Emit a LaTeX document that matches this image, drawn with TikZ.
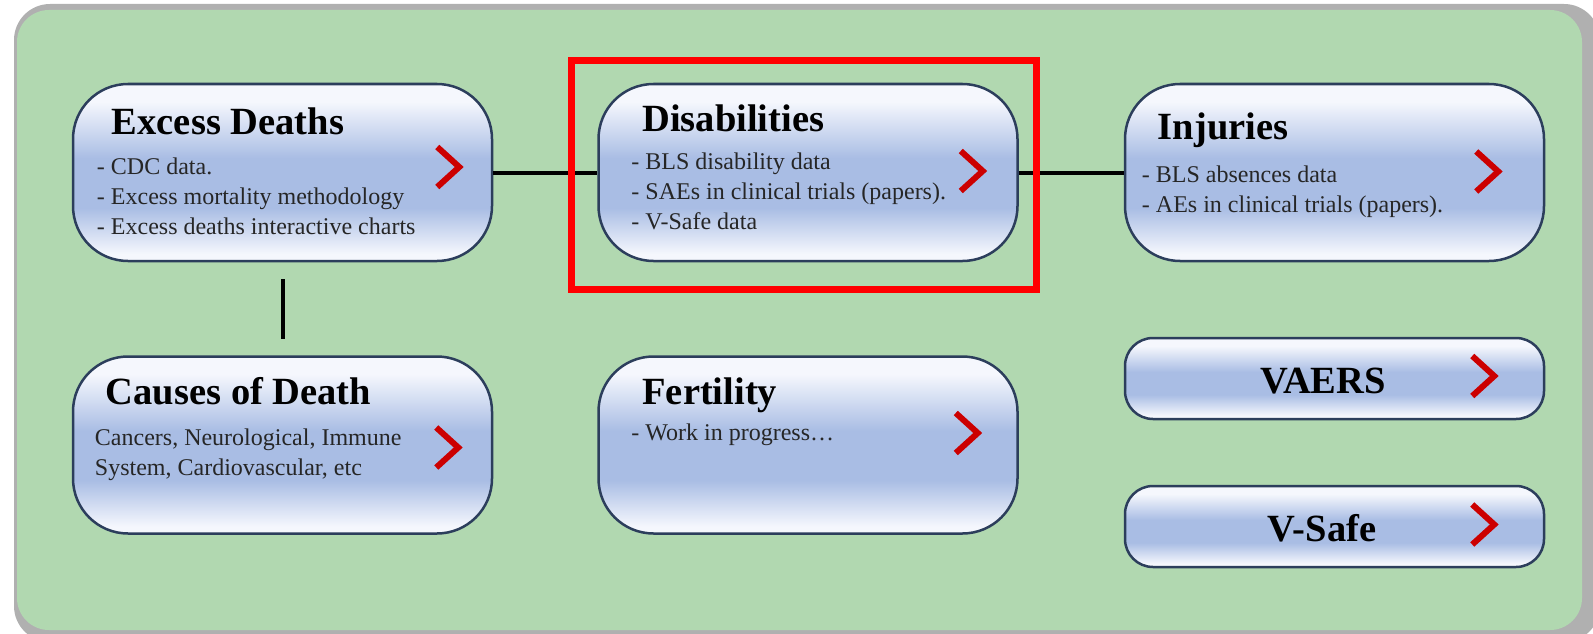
\documentclass[tikz,border=0pt]{standalone}
\usepackage{fontspec}
\setmainfont{Liberation Serif}
\usetikzlibrary{positioning}

\definecolor{bggreen}{HTML}{B1D8B0}
\definecolor{bggray}{HTML}{B0B0B0}
\definecolor{cardblue}{HTML}{A9BDE4}
\definecolor{cardlight}{HTML}{F5F7FD}
\definecolor{cardedge}{HTML}{2C3E5C}
\definecolor{chevred}{HTML}{CC0000}
\definecolor{markred}{HTML}{FF0000}

\pgfdeclareverticalshading{cardshade}{100bp}{color(0bp)=(cardlight); color(27bp)=(cardlight); color(40bp)=(cardblue); color(54bp)=(cardblue); color(70bp)=(cardlight); color(100bp)=(cardlight)}

\tikzset{
  card/.style={draw=cardedge, line width=2.5pt, rounded corners=55pt, shade, shading=cardshade,
    minimum width=419pt, minimum height=177pt, inner sep=0pt},
  slim/.style={card, rounded corners=28pt, minimum height=81pt},
  ttl/.style={font=\fontsize{38.5}{44}\selectfont\bfseries, inner sep=0pt},
  lst/.style={font=\fontsize{24}{30}\selectfont, align=left, inner sep=0pt, text=black!85},
  chev/.style={draw=chevred, line width=6pt},
  link/.style={line width=4pt},
}

\begin{document}
\begin{tikzpicture}[x=1pt, y=-1pt]

\newcommand\redchev[3]{\draw[chev] ([shift={(#2,#3)}]#1.east) ++(-22,-20) -- ++(22,20) -- ++(-22,20);}

\useasboundingbox (0,0) rectangle (1593,634);

%% background panel
\begin{scope}
\clip (0,0) rectangle (1593,634);
\fill[bggray, rounded corners=36pt] (14,4) rectangle (1600,642);
\fill[bggreen, rounded corners=32pt] (17,10) rectangle (1582,630);
\end{scope}

%% boxes
\node[card] (excess) at (282.5,172.5) {};
\node[card] (disab) at (808,172.5) {};
\node[card] (injur) at (1334.5,172.5) {};
\node[card] (causes) at (282.5,445) {};
\node[card] (fertil) at (808,445) {};
\node[slim] (vaers) at (1334.5,378.5) {};
\node[slim] (vsafe) at (1334.5,526.5) {};

%% titles
\node[ttl, anchor=base west] (excessT) at ([shift={(40,52)}]excess.north west) {Excess Deaths};
\node[ttl, anchor=base west] (disabT) at ([shift={(45,49)}]disab.north west) {Disabilities};
\node[ttl, anchor=base west] (injurT) at ([shift={(34,57)}]injur.north west) {Injuries};
\node[ttl, anchor=base west] (causesT) at ([shift={(34,49)}]causes.north west) {Causes of Death};
\node[ttl, anchor=base west] (fertilT) at ([shift={(45,49)}]fertil.north west) {Fertility};
\node[ttl, anchor=base] (vaersT) at ([shift={(-11.5,14.5)}]vaers.center) {VAERS};
\node[ttl, anchor=base] (vsafeT) at ([shift={(-12.5,14.5)}]vsafe.center) {V-Safe};

%% texts (top of first strut = baseline - 21)
\node[lst, anchor=north west] (excessL) at ([shift={(25,71)}]excess.north west)
{\strut- CDC data.\\- Excess mortality methodology\\- Excess deaths interactive charts};
\node[lst, anchor=north west] (disabL) at ([shift={(34,66)}]disab.north west)
{\strut- BLS disability data\\- SAEs in clinical trials (papers).\\- V-Safe data};
\node[lst, anchor=north west] (injurL) at ([shift={(18,79)}]injur.north west)
{\strut- BLS absences data\\- AEs in clinical trials (papers).};
\node[lst, anchor=north west] (causesL) at ([shift={(23,69)}]causes.north west)
{\strut Cancers, Neurological, Immune\\System, Cardiovascular, etc};
\node[lst, anchor=base west] (fertilL) at ([shift={(34,85)}]fertil.north west)
{- Work in progress\dots};

%% chevrons
\redchev{excess}{-34}{-5.5}
\redchev{disab}{-36}{-1.5}
\redchev{injur}{-47}{-1}
\redchev{causes}{-35}{2.5}
\redchev{fertil}{-41}{-12}
\redchev{vaers}{-51}{-2.5}
\redchev{vsafe}{-51}{-2}

%% links
\draw[link] (excess) -- (disab);
\draw[link] (disab) -- (injur);
\draw[link, shorten <=17pt, shorten >=16pt] (excess) -- (causes);

%% highlight
\draw[markred, line width=7pt] (571.5,60.5) rectangle (1036,289);

\end{tikzpicture}
\end{document}
